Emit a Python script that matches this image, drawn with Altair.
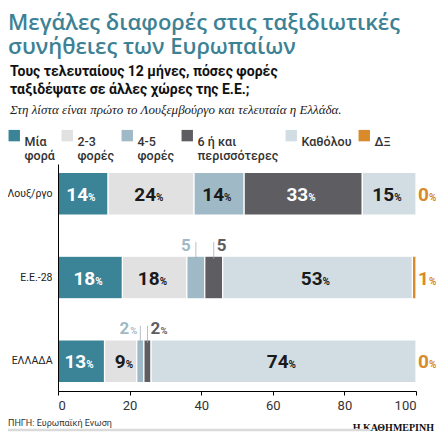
import altair as alt
import pandas as pd

# ---------------- data ----------------
countries = ["Λουξ/ργο", "Ε.Ε.-28", "ΕΛΛΑΔΑ"]
categories = ["Μία φορά", "2-3 φορές", "4-5 φορές", "6 ή και περισσότερες", "Καθόλου", "ΔΞ"]
legend_text = ["Μία|φορά", "2-3|φορές", "4-5|φορές", "6 ή και|περισσότερες", "Καθόλου| ", "ΔΞ| "]
palette = ["#3b8497", "#e1e1e1", "#9fb9c6", "#5d5d62", "#d2dde3", "#d98a2b"]
lux_values = [14, 24, 14, 33, 15, 0]
eu_values = [18, 18, 5, 5, 53, 1]
gr_values = [13, 9, 2, 2, 74, 0]
x_ticks = [0, 20, 40, 60, 80, 100]

title_line1 = "Μεγάλες διαφορές στις ταξιδιωτικές"
title_line2 = "συνήθειες των Ευρωπαίων"
subtitle_lines = ["Τους τελευταίους 12 μήνες, πόσες φορές", "ταξιδέψατε σε άλλες χώρες της Ε.Ε.;"]
note_line = "Στη λίστα είναι πρώτο το Λουξεμβούργο και τελευταία η Ελλάδα."
source_line = "ΠΗΓΗ: Ευρωπαϊκή Ενωση"
brand_line = "Η ΚΑΘΗΜΕΡΙΝΗ"

rows = []
for country, vals in zip(countries, [lux_values, eu_values, gr_values]):
    start = 0
    for i, (cat, v) in enumerate(zip(categories, vals)):
        rows.append(dict(country=country, cat=cat, legend=legend_text[i], order=i,
                         value=v, start=start, end=start + v, mid=start + v / 2))
        start += v
df = pd.DataFrame(rows)

NUMF = "Roboto"
SANS = "Open Sans"
TEAL = "#3d8294"

Y = alt.Y("country:N", sort=countries,
          scale=alt.Scale(paddingInner=0.49, paddingOuter=0.1),
          axis=alt.Axis(title=None, domain=True, domainColor="black", domainWidth=1,
                        ticks=False, labelFontSize=10.5, labelFont="Roboto",
                        labelColor="#222", labelPadding=6, zindex=1))
Yn = alt.Y("country:N", sort=countries)

base = alt.Chart(df)

bars = base.transform_filter("datum.value > 0").mark_bar(
    stroke="white", strokeWidth=1.2
).encode(
    x=alt.X("start:Q", scale=alt.Scale(domain=[0, 100], nice=False),
            axis=alt.Axis(title=None, values=x_ticks, grid=False, domainColor="black",
                          tickColor="black", tickSize=4, labelFontSize=13, labelFont="Roboto",
                          labelColor="#333", labelPadding=4, zindex=1)),
    x2="end:Q",
    y=Y,
    color=alt.Color("legend:N", scale=alt.Scale(domain=legend_text, range=palette),
                    legend=alt.Legend(orient="none", legendX=-50, legendY=-35,
                                      direction="horizontal", title=None,
                                      symbolType="square", symbolSize=130,
                                      symbolStrokeWidth=0, symbolOpacity=1,
                                      labelExpr="split(datum.label, '|')",
                                      labelFontSize=12.5, labelFont="Roboto", labelFontWeight=500,
                                      labelColor="#333", labelBaseline="top", labelOffset=4,
                                      columnPadding=6, labelLimit=200)),
)

inside = base.transform_filter("datum.value >= 9 && datum.order < 5")
txt_color = alt.condition(alt.FieldOneOfPredicate(field="order", oneOf=[0, 3]),
                          alt.value("white"), alt.value("#1a1a1a"))
inside_num = inside.mark_text(align="right", baseline="alphabetic", font=NUMF,
                              fontSize=19, fontWeight="bold", dx=5, dy=7).encode(
    x="mid:Q", y=Yn, text="value:Q", color=txt_color)
inside_pct = inside.mark_text(align="left", baseline="alphabetic", font=NUMF,
                              fontSize=10, fontWeight="bold", dx=5, dy=7).encode(
    x="mid:Q", y=Yn, text=alt.value("%"), color=txt_color)

small = base.transform_filter("datum.value <= 5 && (datum.order == 2 || datum.order == 3)")
small_tick = small.mark_tick(orient="vertical", size=17, thickness=1, yOffset=-27,
                             color="#9aa6ac").encode(x="mid:Q", y=Yn)
left_small = small.transform_filter("datum.order == 2")
right_small = small.transform_filter("datum.order == 3")
gr_only = "datum.country == 'ΕΛΛΑΔΑ'"
eu_only = "datum.country == 'Ε.Ε.-28'"
left_num_eu = left_small.transform_filter(eu_only).mark_text(
    align="right", baseline="alphabetic", font=NUMF, fontSize=17, fontWeight="bold",
    dx=-5, dy=-27, color=palette[2]).encode(x="mid:Q", y=Yn, text="value:Q")
left_num_gr = left_small.transform_filter(gr_only).mark_text(
    align="right", baseline="alphabetic", font=NUMF, fontSize=17, fontWeight="bold",
    dx=-11, dy=-27, color=palette[2]).encode(x="mid:Q", y=Yn, text="value:Q")
left_pct_gr = left_small.transform_filter(gr_only).mark_text(
    align="right", baseline="alphabetic", font=NUMF, fontSize=9.5, fontWeight="bold",
    dx=-3, dy=-27, color=palette[2]).encode(x="mid:Q", y=Yn, text=alt.value("%"))
right_num = right_small.mark_text(align="left", baseline="alphabetic", font=NUMF,
                                  fontSize=17, fontWeight="bold", dx=3, dy=-27,
                                  color=palette[3]).encode(
    x="mid:Q", y=Yn, text="value:Q")
right_pct_gr = right_small.transform_filter(gr_only).mark_text(
    align="left", baseline="alphabetic", font=NUMF, fontSize=9.5, fontWeight="bold",
    dx=13, dy=-27, color=palette[3]).encode(x="mid:Q", y=Yn, text=alt.value("%"))

dk = base.transform_filter("datum.order == 5")
dk_num = dk.mark_text(align="left", baseline="alphabetic", font=NUMF, fontSize=19,
                      fontWeight="bold", dx=2, dy=7, color=palette[5]).encode(
    x="end:Q", y=Yn, text="value:Q")
dk_pct = dk.mark_text(align="left", baseline="alphabetic", font=NUMF, fontSize=10,
                      fontWeight="bold", dx=13, dy=7, color=palette[5]).encode(
    x="end:Q", y=Yn, text=alt.value("%"))

one = alt.Data(values=[{}])
title_a = alt.Chart(one).mark_text(text=title_line1, align="left", baseline="alphabetic",
                                   font=SANS, fontSize=22, fontWeight=600,
                                   color=TEAL).encode(x=alt.value(-50), y=alt.value(-134))
title_b = alt.Chart(one).mark_text(text=title_line2, align="left", baseline="alphabetic",
                                   font=SANS, fontSize=22, fontWeight=600,
                                   color=TEAL).encode(x=alt.value(-50), y=alt.value(-110))
sub_m = alt.Chart(one).mark_text(text=subtitle_lines, align="left", baseline="alphabetic",
                                 font="Roboto", fontSize=14, fontWeight="bold", lineHeight=18,
                                 color="#111").encode(x=alt.value(-48), y=alt.value(-88))
note_m = alt.Chart(one).mark_text(text=note_line, align="left", baseline="alphabetic",
                                  font="Liberation Serif", fontSize=13, fontStyle="italic",
                                  color="#222").encode(x=alt.value(-48), y=alt.value(-50))
src_m = alt.Chart(one).mark_text(text=source_line, align="left", baseline="alphabetic",
                                 font="Roboto", fontSize=9, color="#333").encode(
    x=alt.value(-50), y=alt.value(262))
brand_m = alt.Chart(one).mark_text(text=brand_line, align="right", baseline="alphabetic",
                                   font="Liberation Serif", fontSize=10, fontWeight="bold",
                                   color="#111").encode(x=alt.value(376), y=alt.value(267))
line_m = alt.Chart(one).mark_rule(color="#dadada", strokeWidth=2.5).encode(
    x=alt.value(-50), x2=alt.value(312), y=alt.value(266))

chart = alt.layer(
    bars, inside_num, inside_pct, small_tick, left_num_eu, left_num_gr, left_pct_gr,
    right_num, right_pct_gr, dk_num, dk_pct,
    title_a, title_b, sub_m, note_m, src_m, brand_m, line_m
).properties(
    width=358, height=227,
    autosize=alt.AutoSizeParams(type="none"),
    padding={"left": 50, "top": 156, "right": 20, "bottom": 42},
).configure_view(stroke=None)

chart.save("out.html", embed_options={"renderer": "svg", "actions": False})
